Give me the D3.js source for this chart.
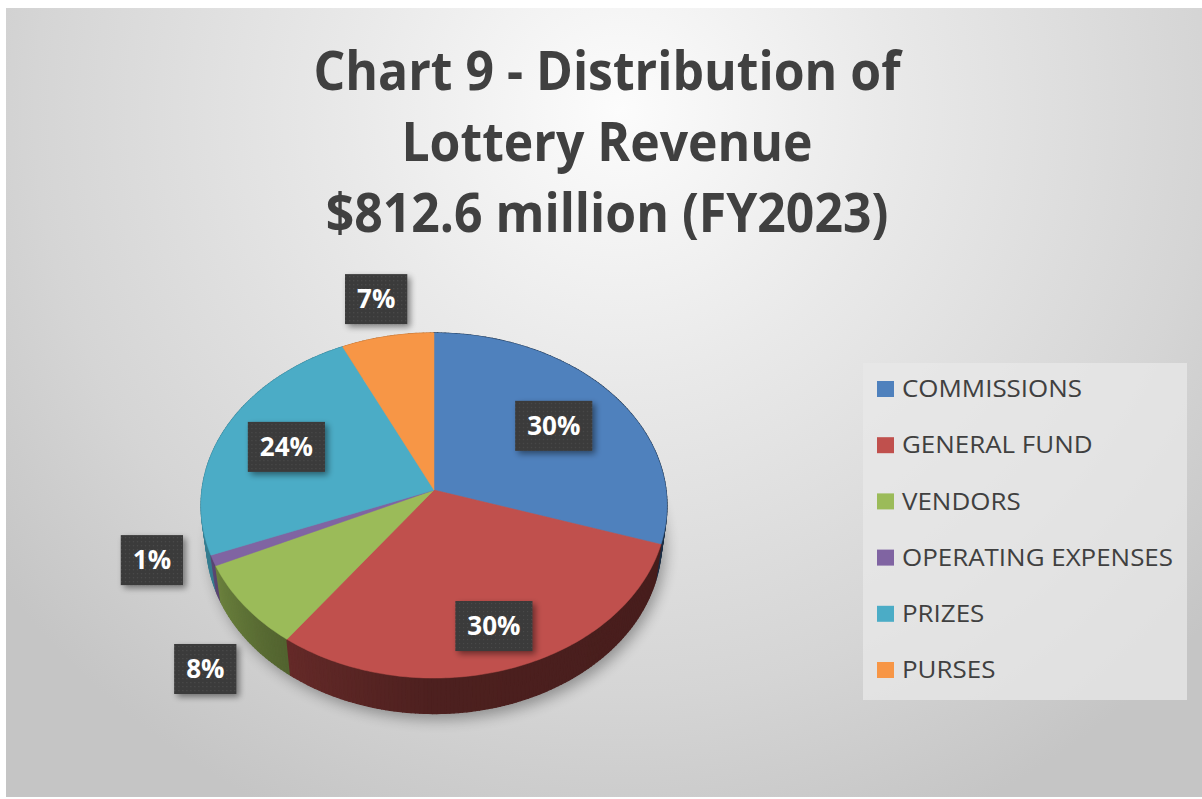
<!DOCTYPE html>
<html>
<head>
<meta charset="utf-8">
<script src="https://cdn.jsdelivr.net/npm/d3@7"></script>
<style>
    html, body { margin: 0; padding: 0; background: #fff; }
    svg { display: block; }
</style>
</head>
<body>
<svg id="chart" width="1202" height="799"></svg>
<script>
// Data
const categories = ['COMMISSIONS', 'GENERAL FUND', 'VENDORS', 'OPERATING EXPENSES', 'PRIZES', 'PURSES'];
const shares = [30, 30, 8, 1, 24, 7];
const colors = ['#4f81bd', '#c0504d', '#9bbb59', '#8064a2', '#4bacc6', '#f79646'];
const titleLines = ['Chart 9 - Distribution of', 'Lottery Revenue', '$812.6 million (FY2023)'];

// Label placement (radius factor / lift, in pie radii)
const labelRadius = [0.66, 0.78, 1.22, 1.25, 0.7, 1.27];
const labelLift = [0, 0, -0.24, 0.12, 0, 0];

const W = 1202, H = 799;
const svg = d3.select('#chart');
const defs = svg.append('defs');

// Background gradient
const bg = defs.append('radialGradient')
    .attr('id', 'bg-grad')
    .attr('gradientUnits', 'userSpaceOnUse')
    .attr('cx', 620).attr('cy', 110).attr('r', 780);
[[0, '#fcfcfc'], [0.35, '#e9e9e9'], [0.75, '#d5d5d5'], [1, '#c5c5c5']].forEach(([o, c]) => {
    bg.append('stop').attr('offset', o).attr('stop-color', c);
});

// Shadow filters
const sh = defs.append('filter').attr('id', 'box-shadow')
    .attr('x', '-30%').attr('y', '-30%').attr('width', '160%').attr('height', '160%');
sh.append('feGaussianBlur').attr('in', 'SourceAlpha').attr('stdDeviation', 3).attr('result', 'b');
sh.append('feOffset').attr('in', 'b').attr('dx', 3).attr('dy', 3).attr('result', 'o');
sh.append('feComponentTransfer').attr('in', 'o').attr('result', 'o2')
    .append('feFuncA').attr('type', 'linear').attr('slope', 0.45);
const shm = sh.append('feMerge');
shm.append('feMergeNode').attr('in', 'o2');
shm.append('feMergeNode').attr('in', 'SourceGraphic');

defs.append('filter').attr('id', 'pie-shadow')
    .attr('x', '-20%').attr('y', '-20%').attr('width', '140%').attr('height', '140%')
    .append('feGaussianBlur').attr('stdDeviation', 7);

// Dotted label fill
const pat = defs.append('pattern').attr('id', 'dots')
    .attr('patternUnits', 'userSpaceOnUse').attr('width', 4).attr('height', 4);
pat.append('rect').attr('width', 4).attr('height', 4).attr('fill', '#3a3a3a');
pat.append('rect').attr('x', 1).attr('y', 1).attr('width', 1.2).attr('height', 1.2).attr('fill', '#4c4c4c');

// Chart area
svg.append('rect').attr('width', W).attr('height', H).attr('fill', '#ffffff');
svg.append('rect').attr('x', 6).attr('y', 8).attr('width', W - 6).attr('height', H - 10)
    .attr('fill', 'url(#bg-grad)');

// Title
const title = svg.append('g').attr('class', 'title');
const titleText = title.selectAll('text')
    .data(titleLines)
    .enter()
    .append('text')
    .attr('x', 607)
    .attr('y', (d, i) => 90 + i * 71)
    .attr('text-anchor', 'middle')
    .style('font-family', '"Open Sans", "Noto Sans", sans-serif')
    .style('font-weight', '700')
    .style('font-size', '53px')
    .style('fill', '#404040')
    .text(d => d);
const titleScale = 587 / titleText.nodes()[0].getComputedTextLength();
titleText.each(function() {
    const w = this.getComputedTextLength();
    d3.select(this).attr('textLength', w * titleScale).attr('lengthAdjust', 'spacingAndGlyphs');
});

// 3D pie projection
const cx = 434, cy = 490;
const focal = 1745, dist = 7.52;
const tilt = Math.asin(0.7376);
const sinT = Math.sin(tilt), cosT = Math.cos(tilt);
const depth = 0.24;

function project(a, r, lift) {
    const X = r * Math.sin(a);
    const Z = -r * Math.cos(a);
    const yc = Z * sinT - lift * cosT;
    const zc = Z * cosT + lift * sinT;
    const k = focal / (dist - zc);
    return [cx + X * k, cy + yc * k];
}

const pie = d3.pie().sort(null).value(d => d)(shares);
const total = d3.sum(shares);
const line = d3.line();
const step = Math.PI / 180;

function arcPoints(a0, a1, lift) {
    const n = Math.max(2, Math.ceil((a1 - a0) / step));
    return d3.range(n + 1).map(i => project(a0 + (a1 - a0) * i / n, 1, lift));
}

// Soft shadow beneath the pie
const pieG = svg.append('g');
pieG.append('path')
    .attr('d', line(arcPoints(0, Math.PI * 2, -depth)) + 'Z')
    .attr('transform', 'translate(4,6)')
    .attr('fill', '#000')
    .attr('opacity', 0.32)
    .attr('filter', 'url(#pie-shadow)');

// Side walls, split into small facets, far ones first
const shade = d3.scaleLinear()
    .domain([90, 180, 215, 250, 270].map(d => d * Math.PI / 180))
    .range([0.36, 0.4, 0.52, 0.72, 0.75])
    .clamp(true);

const facets = [];
pie.forEach((p, i) => {
    const n = Math.max(1, Math.ceil((p.endAngle - p.startAngle) / step));
    for (let j = 0; j < n; j++) {
        const a0 = p.startAngle + (p.endAngle - p.startAngle) * j / n;
        const a1 = p.startAngle + (p.endAngle - p.startAngle) * (j + 1) / n;
        const mid = (a0 + a1) / 2;
        facets.push({ i, a0, a1, z: -Math.cos(mid), mid });
    }
});
facets.sort((a, b) => a.z - b.z);

const sideColor = f => d3.interpolateRgb('#000', colors[f.i])(shade(f.mid));
pieG.selectAll('path.side')
    .data(facets)
    .enter()
    .append('path')
    .attr('class', 'side')
    .attr('d', f => line([
        project(f.a0, 1, 0), project(f.a1, 1, 0),
        project(f.a1, 1, -depth), project(f.a0, 1, -depth)
    ]) + 'Z')
    .attr('fill', sideColor)
    .attr('stroke', sideColor)
    .attr('stroke-width', 1.2)
    .attr('stroke-linejoin', 'round');

// Top faces
pieG.selectAll('path.top')
    .data(pie)
    .enter()
    .append('path')
    .attr('class', 'top')
    .attr('d', p => line([project(0, 0, 0), ...arcPoints(p.startAngle, p.endAngle, 0)]) + 'Z')
    .attr('fill', (p, i) => colors[i])
    .attr('stroke', (p, i) => colors[i])
    .attr('stroke-width', 0.5);

// Data labels
const fmt = d3.format('.0%');
const labels = svg.append('g').selectAll('g')
    .data(pie)
    .enter()
    .append('g')
    .attr('transform', (p, i) => {
        const mid = (p.startAngle + p.endAngle) / 2;
        const [x, y] = project(mid, labelRadius[i], labelLift[i]);
        return `translate(${x},${y})`;
    });
labels.append('text')
    .attr('text-anchor', 'middle')
    .attr('dy', '0.36em')
    .style('font-family', '"Open Sans", "Noto Sans", sans-serif')
    .style('font-weight', '700')
    .style('font-size', '26px')
    .style('fill', '#ffffff')
    .text(p => fmt(p.value / total));
labels.each(function() {
    const g = d3.select(this);
    const w = g.select('text').node().getComputedTextLength() + 24;
    g.insert('rect', 'text')
        .attr('x', -w / 2).attr('y', -25)
        .attr('width', w).attr('height', 50)
        .attr('fill', 'url(#dots)')
        .attr('filter', 'url(#box-shadow)');
});

// Legend
const legend = svg.append('g');
legend.append('rect')
    .attr('x', 863).attr('y', 363).attr('width', 324).attr('height', 337)
    .attr('fill', '#e8e8e8').attr('opacity', 0.75);
const ly = d3.scalePoint().domain(categories).range([389, 670]);
const items = legend.selectAll('g.item')
    .data(categories)
    .enter()
    .append('g')
    .attr('class', 'item')
    .attr('transform', d => `translate(877,${ly(d)})`);
items.append('rect')
    .attr('x', 0).attr('y', -8).attr('width', 17).attr('height', 16)
    .attr('fill', (d, i) => colors[i]);
const legendText = items.append('text')
    .attr('x', 25).attr('dy', '0.36em')
    .style('font-family', '"Open Sans", "Noto Sans", sans-serif')
    .style('font-size', '23px')
    .style('fill', '#404040')
    .text(d => d);
const legendScale = 271 / legendText.nodes()[3].getComputedTextLength();
legendText.each(function() {
    const w = this.getComputedTextLength();
    d3.select(this).attr('textLength', w * legendScale).attr('lengthAdjust', 'spacingAndGlyphs');
});
</script>
</body>
</html>
